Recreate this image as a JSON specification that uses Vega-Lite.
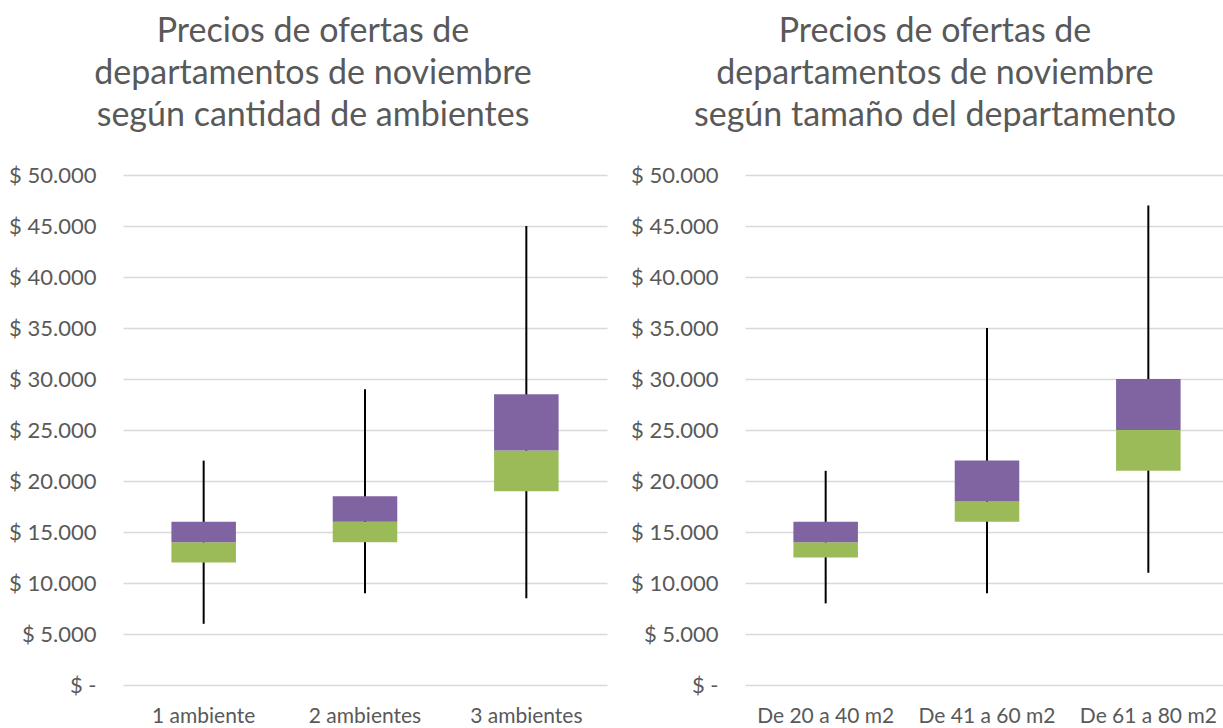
{
  "$schema": "https://vega.github.io/schema/vega-lite/v6.json",
  "background": "white",
  "padding": {"left": 8, "top": 15, "right": 0, "bottom": 0},
  "spacing": 23,
  "config": {
    "font": "Lato",
    "view": {"stroke": null},
    "title": {"font": "Lato", "fontSize": 34, "fontWeight": "normal", "color": "#595959", "lineHeight": 42, "anchor": "middle", "dx": -52, "offset": 31},
    "axis": {"labelFont": "Lato", "labelFontSize": 22, "labelColor": "#595959", "ticks": false, "domain": false, "title": null}
  },
  "datasets": {
    "amb": [
      {"cat": "1 ambiente", "min": 6000, "q1": 12000, "med": 14000, "q3": 16000, "max": 22000},
      {"cat": "2 ambientes", "min": 9000, "q1": 14000, "med": 16000, "q3": 18500, "max": 29000},
      {"cat": "3 ambientes", "min": 8500, "q1": 19000, "med": 23000, "q3": 28500, "max": 45000}
    ],
    "tam": [
      {"cat": "De 20 a 40 m2", "min": 8000, "q1": 12500, "med": 14000, "q3": 16000, "max": 21000},
      {"cat": "De 41 a 60 m2", "min": 9000, "q1": 16000, "med": 18000, "q3": 22000, "max": 35000},
      {"cat": "De 61 a 80 m2", "min": 11000, "q1": 21000, "med": 25000, "q3": 30000, "max": 47000}
    ]
  },
  "hconcat": [
    {
      "width": 484,
      "height": 510,
      "title": {"text": ["Precios de ofertas de", "departamentos  de noviembre", "según cantidad de ambientes"]},
      "data": {"name": "amb"},
      "encoding": {
        "x": {"field": "cat", "type": "nominal", "sort": null, "scale": {"paddingInner": 0, "paddingOuter": 0}, "axis": {"labelAngle": 0, "labelPadding": 20, "labelFontSize": 21, "grid": false}}
      },
      "layer": [
        {
          "mark": {"type": "rule", "color": "#000000", "strokeWidth": 2},
          "encoding": {
            "y": {"field": "min", "type": "quantitative", "scale": {"domain": [0, 50000]}, "axis": {"values": [0, 5000, 10000, 15000, 20000, 25000, 30000, 35000, 40000, 45000, 50000], "grid": true, "gridColor": "#D9D9D9", "gridWidth": 1.5, "labelPadding": 27, "labelExpr": "datum.value == 0 ? '$ -     ' : '$ ' + replace(format(datum.value, ','), ',', '.')"}},
            "y2": {"field": "max"}
          }
        },
        {
          "mark": {"type": "bar", "color": "#9BBB59", "width": {"band": 0.4}},
          "encoding": {"y": {"field": "q1", "type": "quantitative"}, "y2": {"field": "med"}}
        },
        {
          "mark": {"type": "bar", "color": "#8064A2", "width": {"band": 0.4}},
          "encoding": {"y": {"field": "med", "type": "quantitative"}, "y2": {"field": "q3"}}
        }
      ]
    },
    {
      "width": 484,
      "height": 510,
      "title": {"text": ["Precios de ofertas de", "departamentos de noviembre", "según tamaño del departamento"]},
      "data": {"name": "tam"},
      "encoding": {
        "x": {"field": "cat", "type": "nominal", "sort": null, "scale": {"paddingInner": 0, "paddingOuter": 0}, "axis": {"labelAngle": 0, "labelPadding": 20, "labelFontSize": 21, "grid": false}}
      },
      "layer": [
        {
          "mark": {"type": "rule", "color": "#000000", "strokeWidth": 2},
          "encoding": {
            "y": {"field": "min", "type": "quantitative", "scale": {"domain": [0, 50000]}, "axis": {"values": [0, 5000, 10000, 15000, 20000, 25000, 30000, 35000, 40000, 45000, 50000], "grid": true, "gridColor": "#D9D9D9", "gridWidth": 1.5, "labelPadding": 27, "labelExpr": "datum.value == 0 ? '$ -     ' : '$ ' + replace(format(datum.value, ','), ',', '.')"}},
            "y2": {"field": "max"}
          }
        },
        {
          "mark": {"type": "bar", "color": "#9BBB59", "width": {"band": 0.4}},
          "encoding": {"y": {"field": "q1", "type": "quantitative"}, "y2": {"field": "med"}}
        },
        {
          "mark": {"type": "bar", "color": "#8064A2", "width": {"band": 0.4}},
          "encoding": {"y": {"field": "med", "type": "quantitative"}, "y2": {"field": "q3"}}
        }
      ]
    }
  ]
}
